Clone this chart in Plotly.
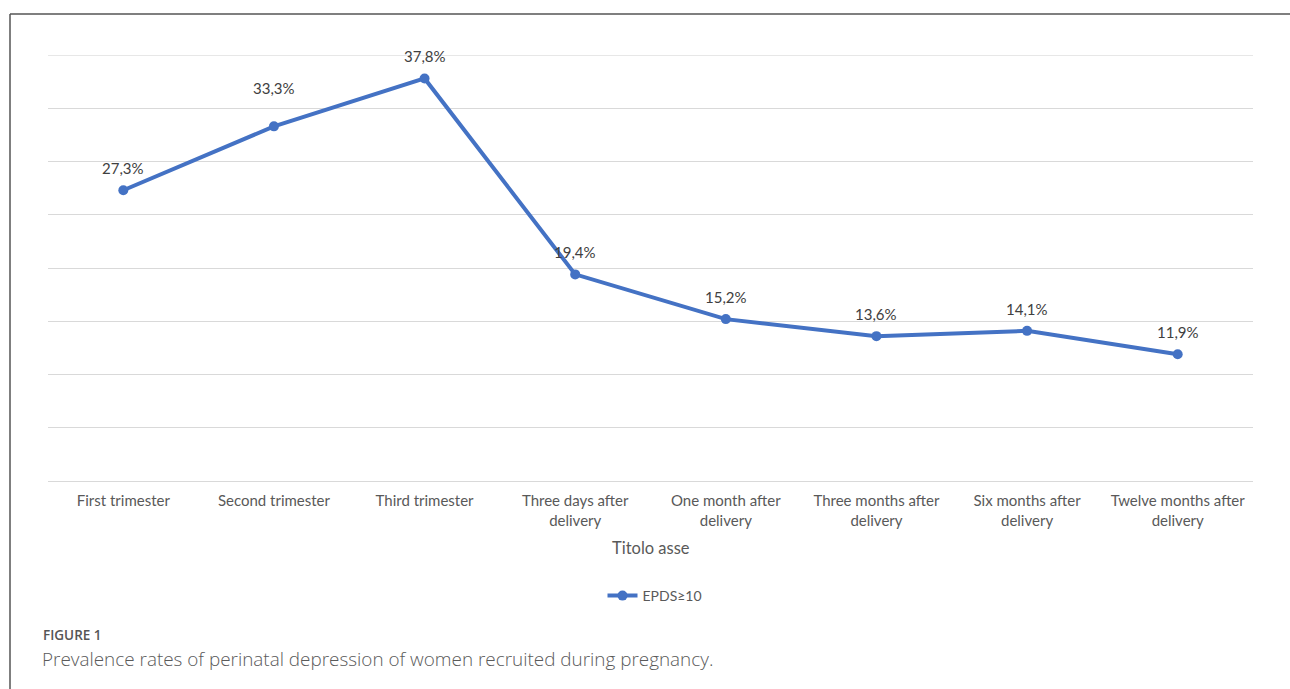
import plotly.graph_objects as go

# Survey time points and share of women with EPDS >= 10 (%)
categories = [
    "First trimester",
    "Second trimester",
    "Third trimester",
    "Three days after<br>delivery",
    "One month after<br>delivery",
    "Three months after<br>delivery",
    "Six months after<br>delivery",
    "Twelve months after<br>delivery",
]
epds_values = [27.3, 33.3, 37.8, 19.4, 15.2, 13.6, 14.1, 11.9]
series_name = "EPDS≥10"

W, H = 1290, 689
ML, MR, MT, MB = 48, 37, 55, 208
PW, PH = W - ML - MR, H - MT - MB


def px_x(x):
    return (x - ML) / PW


def px_y(y):
    return (H - MB - y) / PH


FONT = "Lato, 'Open Sans', sans-serif"
CAP_FONT = "'Open Sans', sans-serif"
BLUE = "#4472C4"
GRID = "#D9D9D9"
Y_MAX = 40

labels = [f"{v:.1f}%".replace(".", ",") for v in epds_values]
xs = list(range(len(categories)))

fig = go.Figure()
fig.add_trace(
    go.Scatter(
        x=xs,
        y=epds_values,
        name=series_name,
        mode="lines+markers",
        line=dict(color=BLUE, width=4),
        marker=dict(color=BLUE, size=10),
        cliponaxis=False,
    )
)

# Value labels above each point; the second one sits higher to clear the line
for xi, v, lab in zip(xs, epds_values, labels):
    fig.add_annotation(
        x=xi, y=v, text=lab, showarrow=False,
        yshift=38 if xi == 1 else 22,
        xanchor="center", yanchor="middle",
        font=dict(family=FONT, size=15, color="#404040"),
    )

fig.update_layout(
    width=W,
    height=H,
    margin=dict(l=ML, r=MR, t=MT, b=MB),
    paper_bgcolor="white",
    plot_bgcolor="white",
    font=dict(family=FONT, color="#595959"),
    showlegend=True,
    legend=dict(
        orientation="h",
        x=px_x(655),
        y=px_y(596),
        xanchor="center",
        yanchor="middle",
        font=dict(family=FONT, size=14, color="#595959"),
        itemwidth=30,
    ),
    xaxis=dict(
        tickmode="array",
        tickvals=xs,
        ticktext=categories,
        range=[-0.5, len(categories) - 0.5],
        showgrid=False,
        zeroline=False,
        showline=False,
        ticks="",
        ticklabelstandoff=9,
        tickfont=dict(family=FONT, size=15, color="#595959"),
    ),
    yaxis=dict(
        range=[0, Y_MAX],
        dtick=5,
        showgrid=True,
        gridcolor=GRID,
        gridwidth=1,
        zeroline=True,
        zerolinecolor=GRID,
        zerolinewidth=1,
        showticklabels=False,
        showline=False,
    ),
)

# Top gridline at the upper end of the value range
fig.add_shape(
    type="line", xref="paper", yref="y",
    x0=0, x1=1, y0=Y_MAX, y1=Y_MAX,
    line=dict(color="#D0D0D0", width=1.2), layer="below",
)

# Axis title
fig.add_annotation(
    text="Titolo asse",
    xref="paper", yref="paper",
    x=px_x(651), y=px_y(548),
    xanchor="center", yanchor="middle",
    showarrow=False,
    font=dict(family=FONT, size=16.5, color="#595959"),
)

# Figure label and caption
fig.add_annotation(
    text="FIGURE 1",
    xref="paper", yref="paper",
    x=px_x(41), y=px_y(635),
    xanchor="left", yanchor="middle",
    showarrow=False,
    font=dict(family=CAP_FONT, size=13.5, color="#555555", weight=600),
)
fig.add_annotation(
    text="Prevalence rates of perinatal depression of women recruited during pregnancy.",
    xref="paper", yref="paper",
    x=px_x(40), y=px_y(659),
    xanchor="left", yanchor="middle",
    showarrow=False,
    font=dict(family=CAP_FONT, size=18.9, color="#5A5A5A", weight=300),
)

# Outer frame: top and left rules
fig.add_shape(
    type="line", xref="paper", yref="paper",
    x0=px_x(10), x1=px_x(1290), y0=px_y(14), y1=px_y(14),
    line=dict(color="#555555", width=1.5),
)
fig.add_shape(
    type="line", xref="paper", yref="paper",
    x0=px_x(10), x1=px_x(10), y0=px_y(14), y1=px_y(689),
    line=dict(color="#555555", width=1.5),
)

fig.write_html("out.html")
